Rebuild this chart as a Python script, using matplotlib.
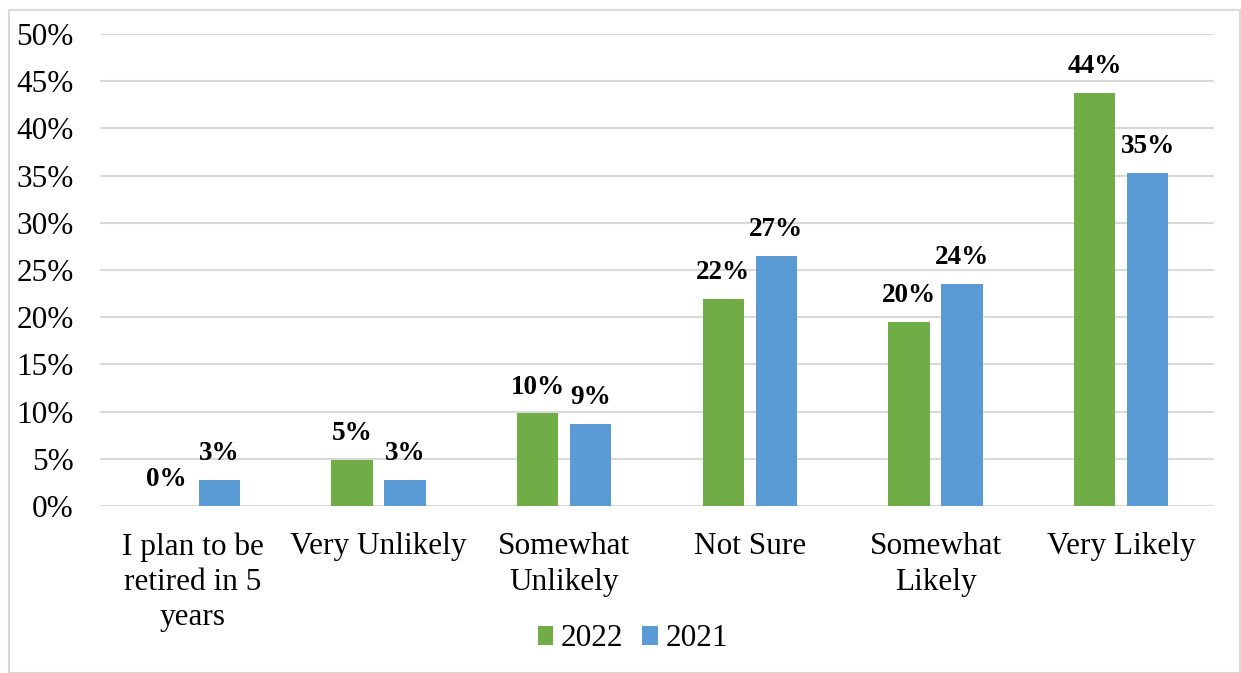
import matplotlib
matplotlib.use("Agg")
import matplotlib.pyplot as plt
import numpy as np
from matplotlib.patches import Rectangle

categories = ["I plan to be\nretired in 5\nyears", "Very Unlikely", "Somewhat\nUnlikely",
              "Not Sure", "Somewhat\nLikely", "Very Likely"]
series_names = ["2022", "2021"]
values_2022 = [0.0, 4.9, 9.8, 21.9, 19.5, 43.8]
values_2021 = [2.8, 2.8, 8.7, 26.5, 23.5, 35.3]
labels_2022 = ["0%", "5%", "10%", "22%", "20%", "44%"]
labels_2021 = ["3%", "3%", "9%", "27%", "24%", "35%"]
yticks = [0, 5, 10, 15, 20, 25, 30, 35, 40, 45, 50]
ytick_labels = [f"{v}%" for v in yticks]

plt.rcParams['font.family'] = ['Liberation Serif', 'DejaVu Serif']

W, H = 1241, 673
fig = plt.figure(figsize=(W / 100, H / 100), dpi=100)
ax = fig.add_axes([100 / W, 1 - 506 / H, (1214 - 100) / W, (506 - 34) / H])

green = "#70AD47"
blue = "#5B9BD5"
x = np.arange(len(categories))
bw = 0.221
off = 0.1427
b1 = ax.bar(x - off, values_2022, bw, color=green, label=series_names[0], zorder=3)
b2 = ax.bar(x + off, values_2021, bw, color=blue, label=series_names[1], zorder=3)

for xs, vals, labs in [(x - off, values_2022, labels_2022), (x + off, values_2021, labels_2021)]:
    for xi, v, lab in zip(xs, vals, labs):
        ax.annotate(lab, (xi, v), xytext=(0, 10), textcoords="offset points",
                    ha="center", va="bottom", fontsize=19.5, fontweight="bold", color="#000000")

ax.set_xlim(-0.5, len(categories) - 0.5)
ax.set_ylim(0, 50)
ax.set_yticks(yticks)
ax.set_yticklabels(ytick_labels)
ax.set_xticks(x)
ax.set_xticklabels(categories, linespacing=1.28)
ax.tick_params(axis="y", length=0, pad=19, labelsize=22.5, colors="#000000")
ax.tick_params(axis="x", length=0, pad=19, labelsize=22.5, colors="#000000")
for s in ax.spines.values():
    s.set_visible(False)
ax.grid(axis="y", color="#D9D9D9", linewidth=1.5, zorder=0)
ax.set_axisbelow(True)

fig.legend(handles=[b1, b2], labels=series_names, loc="center",
           bbox_to_anchor=(633 / W, 1 - 639 / H), ncol=2, frameon=False,
           fontsize=22.5, handlelength=0.5, handleheight=0.6, handletextpad=0.25,
           columnspacing=0.6, borderpad=0)

fig.patches.append(Rectangle((9 / W, 0.5 / H), (W - 10) / W, (H - 10) / H,
                             transform=fig.transFigure, fill=False,
                             edgecolor="#D9D9D9", linewidth=1.5, zorder=0))

fig.savefig("out.png", dpi=100, facecolor="white")
